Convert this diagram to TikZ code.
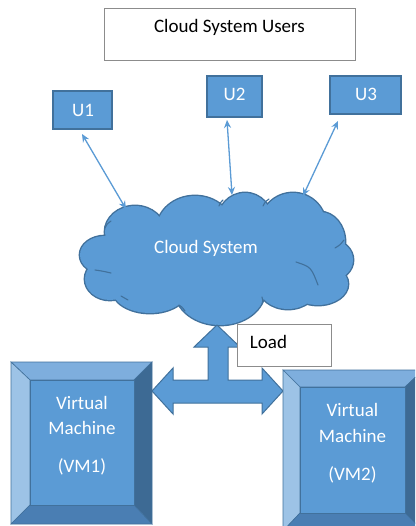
\documentclass[tikz,border=0pt]{standalone}
\usepackage{fontspec}
\setmainfont{Carlito}
\usetikzlibrary{arrows.meta}
\definecolor{face}{HTML}{5B9BD5}
\definecolor{edge}{HTML}{41719C}
\definecolor{bevtop}{HTML}{7EAEDD}
\definecolor{bevleft}{HTML}{9DC3E6}
\definecolor{bevright}{HTML}{3D6A94}
\definecolor{bevbot}{HTML}{4A7EB3}
\definecolor{gbox}{HTML}{8C8C8C}
\tikzset{
  lbl/.style={font=\fontsize{19}{23}\selectfont, anchor=base, inner sep=0pt},
  wlbl/.style={lbl, text=white},
  ubox/.style={draw=edge, line width=1.4pt, fill=face},
  plainbox/.style={draw=gbox, line width=0.9pt, fill=white},
  conn/.style={draw=face, line width=1.3pt, {Stealth[length=8pt,width=7pt]}-{Stealth[length=8pt,width=7pt]}},
  bev/.style={draw=edge, line width=0.6pt},
  crease/.style={draw=edge, line width=1.1pt, line cap=round},
}
\newcommand{\vmbox}[8]{% x1 y1 x2 y2 ix1 iy1 ix2 iy2
  \fill[bevtop,bev] (#1,#2) -- (#3,#2) -- (#7,#6) -- (#5,#6) -- cycle;
  \fill[bevleft,bev] (#1,#2) -- (#5,#6) -- (#5,#8) -- (#1,#4) -- cycle;
  \fill[bevright,bev] (#3,#2) -- (#3,#4) -- (#7,#8) -- (#7,#6) -- cycle;
  \fill[bevbot,bev] (#1,#4) -- (#5,#8) -- (#7,#8) -- (#3,#4) -- cycle;
  \fill[face,bev] (#5,#6) rectangle (#7,#8);
}
\begin{document}
\begin{tikzpicture}[x=1pt,y=-1pt]
\useasboundingbox (0,0) rectangle (415,526);
\clip (0,0) rectangle (415,526);
\fill[white] (0,0) rectangle (415,526);

% title box
\draw[plainbox] (104,8) rectangle (355,60);
\node[lbl] (title) at (229.5,33) {Cloud System Users};

% user boxes
\draw[ubox] (53,91) rectangle (112,129);
\node[wlbl] (U1) at (83,117) {U1};
\draw[ubox] (207,76) rectangle (262,117);
\node[wlbl] (U2) at (234.5,101) {U2};
\draw[ubox] (330,76) rectangle (401,114);
\node[wlbl] (U3) at (366,101) {U3};

% cloud (union of ellipses)
\def\cloudparts{
  (105,255) ellipse [x radius=25, y radius=19]
  (135,232) ellipse [x radius=30, y radius=26]
  (195,229) ellipse [x radius=38, y radius=33]
  (245,223) ellipse [x radius=28, y radius=30]
  (293,226) ellipse [x radius=33, y radius=33]
  (320,242) ellipse [x radius=25, y radius=30]
  (331,260) ellipse [x radius=22, y radius=20]
  (318,284) ellipse [x radius=30, y radius=21]
  (288,285) ellipse [x radius=30, y radius=24]
  (220,290) ellipse [x radius=45, y radius=35]
  (150,289) ellipse [x radius=38, y radius=24]
  (110,279) ellipse [x radius=25, y radius=21]
  (216,255) ellipse [x radius=100, y radius=40]
}
\draw[edge, line width=2.8pt] \cloudparts;
\fill[face] \cloudparts;
% interior creases of the cloud
\draw[crease] (95,270) .. controls (102,271) .. (111,273);
\draw[crease] (105,228) .. controls (107,224) .. (111,221);
\draw[crease] (121,296) .. controls (124,298) .. (128,300);
\draw[crease] (179,305) .. controls (182,307) .. (185,311);
\draw[crease] (219,206) .. controls (220,203) .. (223,200);
\draw[crease] (263,206) .. controls (265,202) .. (269,199);
\draw[crease] (335,248) .. controls (340,245) .. (344,240);
\draw[crease] (296,262) .. controls (311,267) .. (318,285);
\draw[crease] (262,304) .. controls (263,301) .. (262,297);
\node[wlbl] (cloud) at (206,253) {Cloud System};

% connectors
\coordinate (u1e) at (82,134);
\coordinate (u2e) at (227,120);
\coordinate (u3e) at (338,121);
\coordinate (c1) at (126,209);
\coordinate (c2) at (232,195);
\coordinate (c3) at (303,196);
\draw[conn] (u1e) -- (c1);
\draw[conn] (u2e) -- (c2);
\draw[conn] (u3e) -- (c3);

% block arrow
\draw[edge, fill=face, line width=1pt, line join=miter]
  (217,325) -- (240,347) -- (228,347) -- (228,380) -- (262,380) -- (262,368)
  -- (283,391) -- (262,414) -- (262,403) -- (173,403) -- (173,414)
  -- (152,391) -- (173,368) -- (173,380) -- (208,380) -- (208,347)
  -- (194,347) -- cycle;

% load box
\draw[plainbox] (237,324) rectangle (331,366);
\node[lbl] (load) at (268.5,348) {Load};

% virtual machines
\vmbox{11}{362}{152}{524}{30}{380}{134}{505}
\node[wlbl] (vm1a) at (82,409) {Virtual};
\node[wlbl] (vm1b) at (82,434) {Machine};
\node[wlbl] (vm1c) at (82,472) {(VM1)};
\vmbox{283}{370}{423}{531}{300}{387}{405}{513}
\node[wlbl] (vm2a) at (352.5,416) {Virtual};
\node[wlbl] (vm2b) at (352.5,442) {Machine};
\node[wlbl] (vm2c) at (352.5,480) {(VM2)};
\end{tikzpicture}
\end{document}
